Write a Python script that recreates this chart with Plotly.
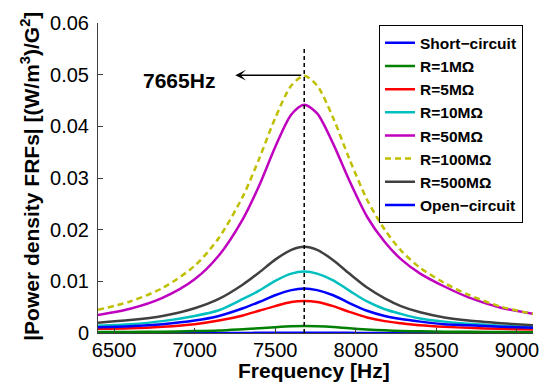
import plotly.graph_objects as go

# ---------------- data ----------------
freq = [6400, 6600, 6800, 7000, 7150, 7300, 7400, 7500, 7600, 7680,
        7760, 7860, 7960, 8070, 8180, 8280, 8400, 8550, 8700, 8900, 9100]

short_circuit = [0.00001, 0.00001, 0.00001, 0.00001, 0.00002, 0.00002, 0.00003, 0.00003, 0.00004, 0.00004,
                 0.00004, 0.00003, 0.00003, 0.00002, 0.00002, 0.00001, 0.00001, 0.00001, 0.00001, 0.00001, 0.00001]
r_1M = [0.00018, 0.00020, 0.00026, 0.00037, 0.00050, 0.00075, 0.00093, 0.00113, 0.00130, 0.00135,
        0.00130, 0.00115, 0.00090, 0.00068, 0.00051, 0.00040, 0.00032, 0.00026, 0.00022, 0.00018, 0.00015]
r_5M = [0.0008, 0.0009, 0.0012, 0.0017, 0.0024, 0.0034, 0.0043, 0.0052, 0.0060, 0.0062,
        0.0060, 0.0052, 0.0041, 0.0030, 0.0023, 0.0019, 0.0015, 0.0012, 0.0010, 0.0008, 0.0007]
r_10M = [0.0014, 0.0017, 0.0023, 0.0033, 0.0044, 0.0066, 0.0082, 0.0101, 0.0115, 0.0119,
         0.0115, 0.0102, 0.0082, 0.0061, 0.0046, 0.0037, 0.0028, 0.0022, 0.0018, 0.0014, 0.0011]
r_50M = [0.0035, 0.0047, 0.0068, 0.0104, 0.0150, 0.0221, 0.0285, 0.0360, 0.0423, 0.0442,
         0.0425, 0.0366, 0.0295, 0.0225, 0.0176, 0.0143, 0.0115, 0.0090, 0.0069, 0.0049, 0.0037]
r_100M = [0.0045, 0.0061, 0.0087, 0.0130, 0.0184, 0.0265, 0.0337, 0.0416, 0.0479, 0.0498,
          0.0479, 0.0416, 0.0337, 0.0258, 0.0200, 0.0160, 0.0126, 0.0097, 0.0074, 0.0051, 0.0037]
r_500M = [0.0020, 0.0025, 0.0033, 0.0048, 0.0066, 0.0094, 0.0117, 0.0142, 0.0161, 0.0167,
          0.0161, 0.0141, 0.0115, 0.0088, 0.0067, 0.0052, 0.0040, 0.0030, 0.0024, 0.0019, 0.0015]
open_circuit = [0.0011, 0.0013, 0.0017, 0.0024, 0.0033, 0.0048, 0.0060, 0.0073, 0.0083, 0.0086,
                0.0083, 0.0073, 0.0058, 0.0043, 0.0033, 0.0027, 0.0022, 0.0017, 0.0015, 0.0012, 0.0010]

series_names = ["Short\u2212circuit", "R=1M\u03a9", "R=5M\u03a9", "R=10M\u03a9",
                "R=50M\u03a9", "R=100M\u03a9", "R=500M\u03a9", "Open\u2212circuit"]
series_values = [short_circuit, r_1M, r_5M, r_10M, r_50M, r_100M, r_500M, open_circuit]
series_colors = ["#0000FF", "#008000", "#FF0000", "#00BFBF",
                 "#BF00BF", "#BFBF00", "#404040", "#0000FF"]
series_dash = ["solid", "solid", "solid", "solid", "solid", "6px,4px", "solid", "solid"]

resonance_freq = 7680
resonance_top = 0.0553
arrow_y = 0.0499
arrow_head_freq = 7252
label_freq = 6904
label_y = 0.0489
label_text = "7665Hz"

x_ticks = [6500, 7000, 7500, 8000, 8500, 9000]
y_ticks = [0, 0.01, 0.02, 0.03, 0.04, 0.05, 0.06]
y_tick_text = ["0", "0.01", "0.02", "0.03", "0.04", "0.05", "0.06"]

x_title = "Frequency [Hz]"
y_title = "|Power density FRFs| [(W/m<sup>3</sup>)/G<sup>2</sup>]"

FONT = "Liberation Sans, Arial, sans-serif"

fig = go.Figure()
for name, vals, col, dash in zip(series_names, series_values, series_colors, series_dash):
    fig.add_trace(go.Scatter(
        x=freq, y=vals, mode="lines", name=name,
        line=dict(color=col, width=2.5, dash=dash, shape="spline", smoothing=0.8),
    ))

# vertical dashed resonance line
fig.add_trace(go.Scatter(
    x=[resonance_freq, resonance_freq], y=[0, resonance_top], mode="lines",
    line=dict(color="black", width=1.5, dash="4px,3px"), showlegend=False, hoverinfo="skip",
))

fig.add_annotation(
    x=arrow_head_freq, y=arrow_y, ax=resonance_freq, ay=arrow_y,
    xref="x", yref="y", axref="x", ayref="y",
    text=" ", showarrow=True, arrowhead=3, arrowsize=1.2, arrowwidth=1.5, arrowcolor="black",
)
fig.add_annotation(
    x=label_freq, y=label_y, xref="x", yref="y", text=label_text, showarrow=False,
    font=dict(family=FONT, size=21, color="black", weight="bold"),
)
# axis titles
fig.add_annotation(
    x=-0.1563, y=0.504, xref="paper", yref="paper", text=y_title, textangle=-90,
    showarrow=False, xanchor="center", yanchor="middle",
    font=dict(family=FONT, size=21, color="black", weight="bold"),
)
fig.add_annotation(
    x=0.4977, y=-0.1225, xref="paper", yref="paper", text=x_title,
    showarrow=False, xanchor="center", yanchor="middle", borderpad=0,
    font=dict(family=FONT, size=21, color="black", weight="bold"),
)

axis_common = dict(
    showline=True, linecolor="#404040", linewidth=1, mirror=False,
    ticks="inside", ticklen=5, tickcolor="#404040", tickwidth=1,
    showgrid=False, zeroline=False, automargin=False,
    tickfont=dict(family=FONT, size=20, color="black"),
)

fig.update_layout(
    width=550, height=384,
    margin=dict(l=98, r=17, t=23, b=51),
    paper_bgcolor="white", plot_bgcolor="white",
    font=dict(family=FONT, color="black"),
    xaxis=dict(range=[6400, 9100], tickvals=x_ticks, tickformat="d", ticklabelstandoff=-1,
               **axis_common),
    yaxis=dict(range=[0, 0.06], tickvals=y_ticks, ticktext=y_tick_text, ticklabelstandoff=4,
               **axis_common),
    legend=dict(x=0.646, y=0.9926, xanchor="left", yanchor="top",
                bgcolor="white", bordercolor="black", borderwidth=1,
                font=dict(family=FONT, size=15.5, color="black", weight="bold"),
                tracegroupgap=0),
    showlegend=True,
)

fig.write_html("out.html")
